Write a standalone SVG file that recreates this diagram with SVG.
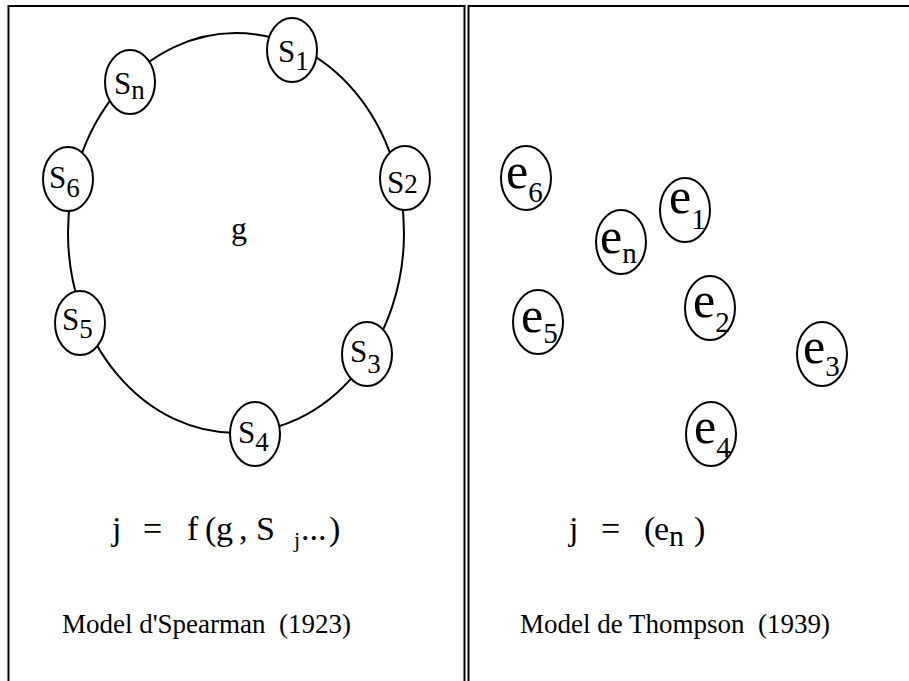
<svg xmlns="http://www.w3.org/2000/svg" width="909" height="681" viewBox="0 0 909 681">
<style>
  .frame { fill: none; stroke: #000; stroke-width: 2; }
  .ring { fill: none; stroke: #000; stroke-width: 2; }
  .node ellipse { fill: #fff; stroke: #000; stroke-width: 2; }
  text { font-family: "Liberation Serif", "Times New Roman", serif; fill: #000; white-space: pre; }
  .s { font-size: 31px; }
  .sub { font-size: 27px; }
  .e { font-size: 50px; }
  .esub { font-size: 29px; }
  .f { font-size: 34px; }
  .cap { font-size: 27px; }
</style>
<rect width="909" height="681" fill="#fff"/>
<g id="frames">
  <path class="frame" d="M8.5,681 V6 H464.5 V681"/>
  <path class="frame" d="M468.5,681 V6 H912"/>
</g>
<g id="connectors">
  <ellipse class="ring" cx="236" cy="233" rx="168" ry="200"/>
</g>
<g id="g-label"><text x="231" y="239" style="font-size:32px">g</text></g>
<g id="S1" class="node"><ellipse cx="292" cy="50" rx="25" ry="32"/><text class="s" x="278" y="62">S<tspan class="sub" y="70">1</tspan></text></g>
<g id="Sn" class="node"><ellipse cx="130" cy="82" rx="25" ry="32"/><text class="s" x="114" y="94">S<tspan class="sub" y="99">n</tspan></text></g>
<g id="S6" class="node"><ellipse cx="68" cy="179" rx="25" ry="32"/><text class="s" x="49" y="188">S<tspan class="sub" y="197">6</tspan></text></g>
<g id="S2" class="node"><ellipse cx="405" cy="178" rx="25" ry="32"/><text class="s" x="387" y="193">S<tspan class="sub" y="193">2</tspan></text></g>
<g id="S5" class="node"><ellipse cx="80" cy="323" rx="25" ry="32"/><text class="s" x="62" y="330">S<tspan class="sub" y="338">5</tspan></text></g>
<g id="S3" class="node"><ellipse cx="367" cy="354" rx="25" ry="32"/><text class="s" x="350" y="362">S<tspan class="sub" y="373">3</tspan></text></g>
<g id="S4" class="node"><ellipse cx="255" cy="434" rx="25" ry="32"/><text class="s" x="238" y="443">S<tspan class="sub" y="451">4</tspan></text></g>

<g id="e6" class="node"><ellipse cx="526" cy="178" rx="25" ry="32"/><text class="e" x="506" y="188">e<tspan class="esub" y="202">6</tspan></text></g>
<g id="e1" class="node"><ellipse cx="685" cy="210" rx="25" ry="32"/><text class="e" x="669" y="213">e<tspan class="esub" y="229">1</tspan></text></g>
<g id="en" class="node"><ellipse cx="621" cy="242" rx="25" ry="32"/><text class="e" x="600" y="253">e<tspan class="esub" y="263">n</tspan></text></g>
<g id="e5" class="node"><ellipse cx="538" cy="322" rx="25" ry="32"/><text class="e" x="521" y="332">e<tspan class="esub" y="343">5</tspan></text></g>
<g id="e2" class="node"><ellipse cx="710" cy="308" rx="25" ry="32"/><text class="e" x="693" y="317">e<tspan class="esub" y="332">2</tspan></text></g>
<g id="e3" class="node"><ellipse cx="822" cy="354" rx="25" ry="32"/><text class="e" x="803" y="363">e<tspan class="esub" y="376">3</tspan></text></g>
<g id="e4" class="node"><ellipse cx="711" cy="434" rx="25" ry="32"/><text class="e" x="694" y="443">e<tspan class="esub" y="457">4</tspan></text></g>

<g id="formula-left">
  <text class="f" x="112" y="540">j<tspan x="143">=</tspan><tspan x="187">f</tspan><tspan x="205">(</tspan><tspan x="216">g</tspan><tspan x="239">,</tspan><tspan x="256">S</tspan><tspan x="294" y="547" style="font-size:22px">j</tspan><tspan x="301" y="540">...</tspan><tspan x="329">)</tspan></text>
</g>
<g id="formula-right">
  <text class="f" x="569" y="540">j<tspan x="601">=</tspan><tspan x="644">(</tspan><tspan x="654">e</tspan><tspan y="546" style="font-size:30px">n</tspan><tspan x="694" y="540">)</tspan></text>
</g>
<g id="captions">
  <text class="cap" x="62" y="633">Model d'Spearman  (1923)</text>
  <text class="cap" x="520" y="633">Model de Thompson  (1939)</text>
</g>
</svg>
